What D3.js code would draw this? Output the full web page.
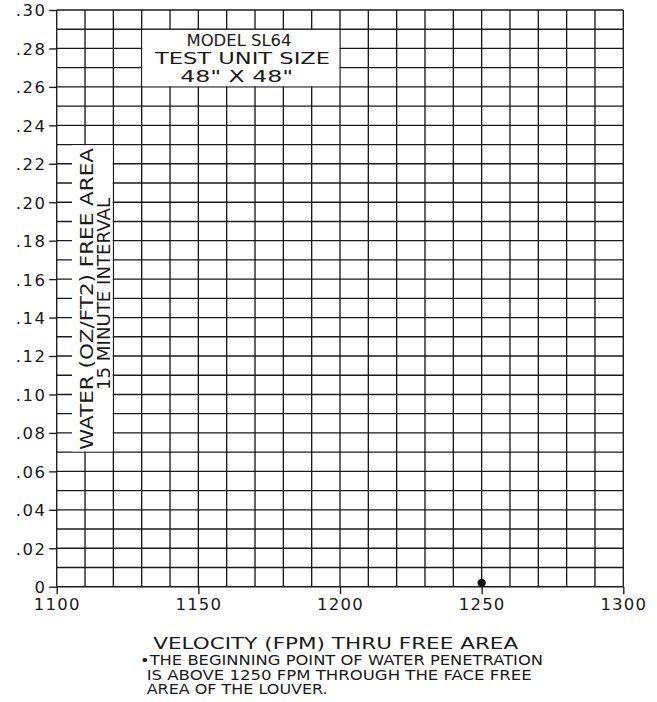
<!DOCTYPE html>
<html>
<head>
<meta charset="utf-8">
<script src="https://cdn.jsdelivr.net/npm/d3@7"></script>
<style>
  html, body { margin: 0; padding: 0; background: #fff; }
  svg { display: block; }
  text { font-family: "DejaVu Sans", "Liberation Sans", sans-serif; fill: #1a1a1a; }
</style>
</head>
<body>
<svg id="chart" width="657" height="702"></svg>
<script>
// ---- data ----
const xDomain = [1100, 1300];
const yDomain = [0, 0.30];
const xTickValues = [1100, 1150, 1200, 1250, 1300];
const xTickLabels = ["1100", "1150", "1200", "1250", "1300"];
const yTickValues = [0, 0.02, 0.04, 0.06, 0.08, 0.10, 0.12, 0.14, 0.16, 0.18, 0.20, 0.22, 0.24, 0.26, 0.28, 0.30];
const yTickLabels = ["0", ".02", ".04", ".06", ".08", ".10", ".12", ".14", ".16", ".18", ".20", ".22", ".24", ".26", ".28", ".30"];
const xGridStep = 10;
const yGridStep = 0.01;
const pointVelocity = [1250];
const pointWater = [0.002];
const titleLines = ["MODEL SL64", "TEST UNIT SIZE", "48\" X 48\""];
const yLabelLines = ["WATER (OZ/FT2) FREE AREA", "15 MINUTE INTERVAL"];
const xLabel = "VELOCITY (FPM) THRU FREE AREA";
const noteLines = ["\u2022THE BEGINNING POINT OF WATER PENETRATION", "IS ABOVE 1250 FPM THROUGH THE FACE FREE", "AREA OF THE LOUVER."];

// ---- layout ----
const svg = d3.select("#chart");
const pLeft = 56.7, pRight = 623.3, pTop = 10, pBottom = 586.7;
const x = d3.scaleLinear().domain(xDomain).range([pLeft, pRight]);
const y = d3.scaleLinear().domain(yDomain).range([pBottom, pTop]);
const ink = "#1a1a1a";
const lw = 1.35;

// grid
const xs = d3.range(xDomain[0], xDomain[1] + 0.001, xGridStep);
const ys = d3.range(0, 31).map(i => +(i * yGridStep).toFixed(2));
const grid = svg.append("g");
grid.selectAll("line.v").data(xs).join("line").attr("class", "v")
  .attr("x1", d => x(d)).attr("x2", d => x(d))
  .attr("y1", pTop).attr("y2", pBottom)
  .attr("stroke", ink).attr("stroke-width", lw);
grid.selectAll("line.h").data(ys).join("line").attr("class", "h")
  .attr("x1", pLeft).attr("x2", pRight)
  .attr("y1", d => y(d)).attr("y2", d => y(d))
  .attr("stroke", ink).attr("stroke-width", lw);

// axes
const xAxis = d3.axisBottom(x).tickValues(xTickValues)
  .tickFormat((d, i) => xTickLabels[i]).tickSize(7.5).tickSizeOuter(0);
const gx = svg.append("g").attr("transform", `translate(0,${pBottom})`).call(xAxis);
gx.select(".domain").remove();
gx.selectAll(".tick line").attr("stroke", ink).attr("stroke-width", lw);
gx.selectAll(".tick text").attr("dy", null).attr("y", 23.5)
  .style("font-size", "16.5px").style("letter-spacing", "1.2px")
  .style("font-family", "DejaVu Sans").attr("fill", ink);

const yAxis = d3.axisLeft(y).tickValues(yTickValues)
  .tickFormat((d, i) => yTickLabels[i]).tickSize(7.5).tickSizeOuter(0);
const gy = svg.append("g").attr("transform", `translate(${pLeft},0)`).call(yAxis);
gy.select(".domain").remove();
gy.selectAll(".tick line").attr("stroke", ink).attr("stroke-width", lw);
gy.selectAll(".tick text").attr("x", -10).attr("dy", "0.36em")
  .style("font-size", "16.5px").style("letter-spacing", "1.6px")
  .style("font-family", "DejaVu Sans").attr("fill", ink);

// title box (white cells 1130-1200 x .26-.29)
const inset = lw / 2;
svg.append("rect")
  .attr("x", x(1130) + inset).attr("y", y(0.29) + inset)
  .attr("width", x(1200) - x(1130) - 2 * inset)
  .attr("height", y(0.26) - y(0.29) - 2 * inset)
  .attr("fill", "#fff");
const titleSpec = [
  { cx: 239, yb: 46, size: 15, len: 105 },
  { cx: 242.5, yb: 63.5, size: 16, len: 175 },
  { cx: 236.7, yb: 81.7, size: 16, len: 113 }
];
svg.append("g").selectAll("text").data(titleLines).join("text")
  .attr("x", (d, i) => titleSpec[i].cx)
  .attr("y", (d, i) => titleSpec[i].yb)
  .attr("text-anchor", "middle")
  .style("font-size", (d, i) => titleSpec[i].size + "px")
  .attr("textLength", (d, i) => titleSpec[i].len)
  .attr("lengthAdjust", "spacingAndGlyphs")
  .text(d => d);

// y label box
svg.append("rect")
  .attr("x", 72).attr("y", y(0.23) + inset)
  .attr("width", x(1120) - inset - 72)
  .attr("height", y(0.07) - y(0.23) - 2 * inset)
  .attr("fill", "#fff");
const yLabSpec = [
  { bx: 93, cy: 299, len: 302 },
  { bx: 110, cy: 294, len: 192 }
];
svg.append("g").selectAll("text").data(yLabelLines).join("text")
  .attr("transform", (d, i) => `translate(${yLabSpec[i].bx},${yLabSpec[i].cy}) rotate(-90)`)
  .attr("text-anchor", "middle")
  .style("font-size", "17.5px")
  .attr("textLength", (d, i) => yLabSpec[i].len)
  .attr("lengthAdjust", "spacingAndGlyphs")
  .text(d => d);

// data point
svg.append("g").selectAll("circle").data(pointVelocity).join("circle")
  .attr("cx", d => x(d)).attr("cy", (d, i) => y(pointWater[i]))
  .attr("r", 4.2).attr("fill", "#111");

// x axis title
svg.append("text")
  .attr("x", 335.7).attr("y", 648.5)
  .attr("text-anchor", "middle")
  .style("font-size", "15.5px")
  .attr("textLength", 365).attr("lengthAdjust", "spacingAndGlyphs")
  .text(xLabel);

// note
const noteSpec = [
  { x0: 140, yb: 664.5, len: 403 },
  { x0: 146.7, yb: 679.5, len: 385 },
  { x0: 146.7, yb: 694, len: 181 }
];
svg.append("g").selectAll("text").data(noteLines).join("text")
  .attr("x", (d, i) => noteSpec[i].x0)
  .attr("y", (d, i) => noteSpec[i].yb)
  .style("font-size", "13.5px")
  .attr("textLength", (d, i) => noteSpec[i].len)
  .attr("lengthAdjust", "spacingAndGlyphs")
  .text(d => d);
</script>
</body>
</html>
